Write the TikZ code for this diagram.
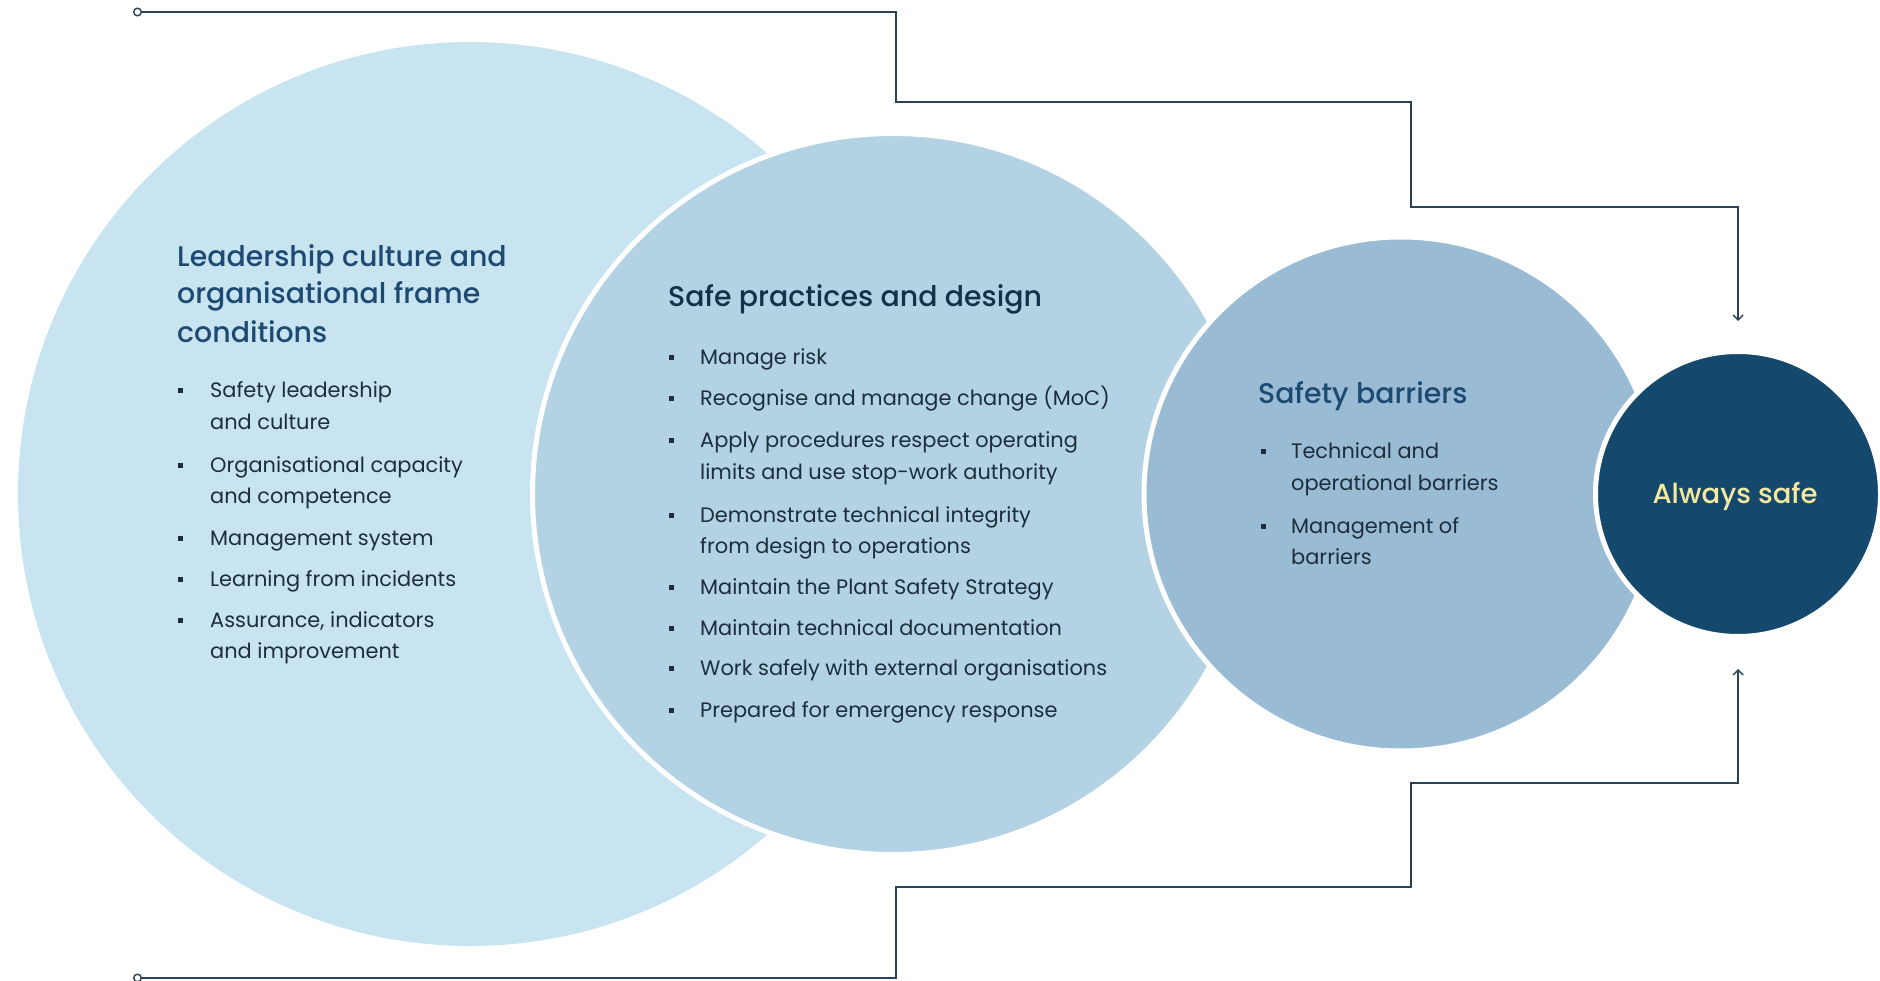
\documentclass[tikz,border=0pt]{standalone}
\usepackage{fontspec}
\setmainfont{Poppins}
\newfontfamily\headfont{Poppins}[UprightFont=* Medium]
\usetikzlibrary{arrows.meta}
\definecolor{cA}{HTML}{C9E4F1}
\definecolor{cB}{HTML}{B3D3E5}
\definecolor{cC}{HTML}{9ABBD4}
\definecolor{cD}{HTML}{15486D}
\definecolor{headA}{HTML}{1D4A72}
\definecolor{headB}{HTML}{12324A}
\definecolor{bodyc}{HTML}{1C2E3D}
\definecolor{safe}{HTML}{F5E99E}
\definecolor{linec}{HTML}{2A4254}
\tikzset{
  disc/.style={circle,inner sep=0pt,draw=white,line width=5pt},
  headtxt/.style={anchor=base west,inner sep=0pt,font=\headfont\fontsize{28.4}{28.4}\selectfont},
  bodytxt/.style={anchor=base west,inner sep=0pt,text=bodyc,font=\fontsize{20.9}{20.9}\selectfont},
  bul/.style={rectangle,fill=bodyc,inner sep=0pt,minimum size=5pt},
  conn/.style={draw=linec,line width=1.4pt},
}
\begin{document}
\begin{tikzpicture}[x=1pt,y=-1pt]
\useasboundingbox (0,0) rectangle (1880,981);
\fill[white] (0,0) rectangle (1880,981);
% circles
\node[disc,draw=none,fill=cA,minimum size=904pt] (c1) at (470,494) {};
\node[disc,fill=cB,minimum size=721pt] (c2) at (893,494) {};
\node[disc,fill=cC,minimum size=514pt] (c3) at (1401,494) {};
\node[disc,fill=cD,minimum size=285pt] (c4) at (1738,494) {};
% connectors
\coordinate (s1) at (133,12);
\coordinate (e1) at (1738,321);
\coordinate (s2) at (133,978);
\coordinate (e2) at (1738,669);
\draw[conn,{Circle[open,length=9pt,width=9pt]}-{Straight Barb[length=5pt,width=10pt]}]
  (s1) -| (896,102) -| (1411,207) -| (e1);
\draw[conn,{Circle[open,length=9pt,width=9pt]}-{Straight Barb[length=5pt,width=10pt]}]
  (s2) -| (896,887) -| (1411,783) -| (e2);
% circle 1 text
\node[headtxt,text=headA] (h1a) at (177,267) {Leadership culture and};
\node[headtxt,text=headA] (h1b) at (177,304) {organisational frame};
\node[headtxt,text=headA] (h1c) at (177,343) {conditions};
\node[bul] (b11) at (180,391) {};
\node[bodytxt] (t11a) at (210,398) {Safety leadership};
\node[bodytxt] (t11b) at (210,430) {and culture};
\node[bul] (b12) at (180,465) {};
\node[bodytxt] (t12a) at (210,472) {Organisational capacity};
\node[bodytxt] (t12b) at (210,503) {and competence};
\node[bul] (b13) at (180,538) {};
\node[bodytxt] (t13) at (210,545) {Management system};
\node[bul] (b14) at (180,579) {};
\node[bodytxt] (t14) at (210,586) {Learning from incidents};
\node[bul] (b15) at (180,620) {};
\node[bodytxt] (t15a) at (210,627) {Assurance, indicators};
\node[bodytxt] (t15b) at (210,658) {and improvement};
% circle 2 text
\node[headtxt,text=headB] (h2) at (668,307) {Safe practices and design};
\node[bul] (b21) at (671,358) {};
\node[bodytxt] (t21) at (700,365) {Manage risk};
\node[bul] (b22) at (671,399) {};
\node[bodytxt] (t22) at (700,406) {Recognise and manage change (MoC)};
\node[bul] (b23) at (671,441) {};
\node[bodytxt] (t23a) at (700,448) {Apply procedures respect operating};
\node[bodytxt] (t23b) at (700,479) {limits and use stop-work authority};
\node[bul] (b24) at (671,515) {};
\node[bodytxt] (t24a) at (700,522) {Demonstrate technical integrity};
\node[bodytxt] (t24b) at (700,553) {from design to operations};
\node[bul] (b25) at (671,587) {};
\node[bodytxt] (t25) at (700,594) {Maintain the Plant Safety Strategy};
\node[bul] (b26) at (671,628) {};
\node[bodytxt] (t26) at (700,635) {Maintain technical documentation};
\node[bul] (b27) at (671,668) {};
\node[bodytxt] (t27) at (700,675) {Work safely with external organisations};
\node[bul] (b28) at (671,710) {};
\node[bodytxt] (t28) at (700,717) {Prepared for emergency response};
% circle 3 text
\node[headtxt,text=headA] (h3) at (1258,404) {Safety barriers};
\node[bul] (b31) at (1263,452) {};
\node[bodytxt] (t31a) at (1291,459) {Technical and};
\node[bodytxt] (t31b) at (1291,490) {operational barriers};
\node[bul] (b32) at (1263,526) {};
\node[bodytxt] (t32a) at (1291,533) {Management of};
\node[bodytxt] (t32b) at (1291,564) {barriers};
% circle 4 text
\node[anchor=base,inner sep=0pt,text=safe,font=\headfont\fontsize{27.5}{27.5}\selectfont] (t4) at (1735,503) {Always safe};
\end{tikzpicture}
\end{document}
